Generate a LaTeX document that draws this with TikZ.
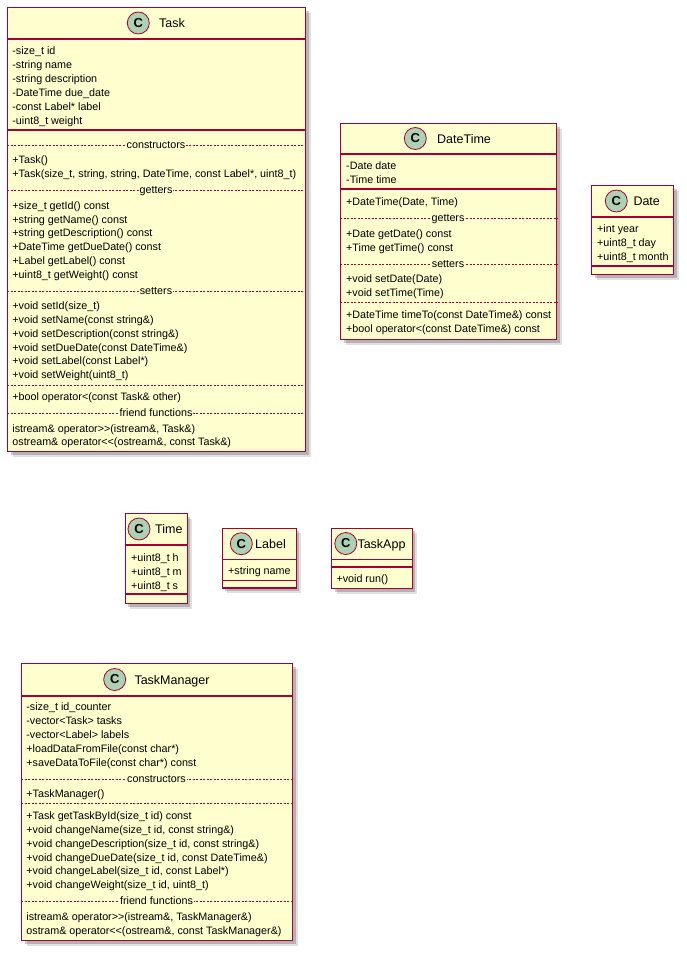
\documentclass[tikz,border=0pt]{standalone}
\usepackage{fontspec}
\newfontfamily\umlfont{Liberation Sans}
\usetikzlibrary{shadows}
\definecolor{umlfill}{HTML}{FEFECE}
\definecolor{umlline}{HTML}{A80036}
\definecolor{umlbadge}{HTML}{ADD1B2}
\tikzset{
  classbox/.style={draw=umlline, fill=umlfill, line width=1.2pt, inner sep=0pt, anchor=north west,
    drop shadow={shadow xshift=5pt, shadow yshift=-5pt, fill=black, opacity=.12},
    drop shadow={shadow xshift=3pt, shadow yshift=-3pt, fill=black, opacity=.2}},
  sep/.style={draw=umlline, line width=1.2pt},
  dsep/.style={draw=umlline, line width=0.5pt, dash pattern=on 2pt off 1.5pt},
  seplabel/.style={font=\umlfont\fontsize{10.75}{13}\selectfont, fill=umlfill, inner xsep=1pt, inner ysep=0.5pt, anchor=base, yshift=-3pt},
  member/.style={font=\umlfont\fontsize{10.75}{13}\selectfont, inner sep=0pt, anchor=base west, yshift=-4pt},
  classname/.style={font=\umlfont\fontsize{12.5}{15}\selectfont, inner sep=0pt, anchor=base west, yshift=-4.5pt},
  badge/.style={circle, draw=umlline, fill=umlbadge, line width=0.8pt, minimum size=22pt, inner sep=0pt, font=\umlfont\bfseries\fontsize{13}{13}\selectfont}
}
\begin{document}
\begin{tikzpicture}[x=1pt, y=-1pt]
\useasboundingbox (0,0) rectangle (686,953);
% Task
\node[classbox, minimum width=298pt, minimum height=444pt] (task) at (7,7) {};
\draw[sep] (task.west |- 0,39) -- (task.east |- 0,39);
\draw[sep] (task.west |- 0,130) -- (task.east |- 0,130);
\node[badge] (task-badge) at (138.3,23) {C};
\node[classname] (task-name) at (159,23) {Task};
\foreach \y/\txt [count=\i] in {50/{-size\_t id}, 64/{-string name}, 78/{-string description}, 92/{-DateTime due\_date}, 106/{-const Label* label}, 120/{-uint8\_t weight}}
  \node[member] (task-a\i) at (12.2,\y) {\txt};
\foreach \y/\txt [count=\i] in {145/constructors, 190.3/getters, 291/setters, 413.7/{friend functions}} {
  \draw[dsep] (task.west |- 0,\y) -- (task.east |- 0,\y);
  \node[seplabel] (task-s\i) at (156,\y) {\txt};
}
\draw[dsep] (task.west |- 0,385) -- (task.east |- 0,385);
\foreach \y/\txt [count=\i] in {159/{+Task()}, 173/{+Task(size\_t, string, string, DateTime, const Label*, uint8\_t)},
  205/{+size\_t getId() const}, 219/{+string getName() const}, 232.6/{+string getDescription() const},
  246.4/{+DateTime getDueDate() const}, 260.2/{+Label getLabel() const}, 274/{+uint8\_t getWeight() const},
  305.6/{+void setId(size\_t)}, 319.4/{+void setName(const string\&)}, 333.2/{+void setDescription(const string\&)},
  347/{+void setDueDate(const DateTime\&)}, 360.8/{+void setLabel(const Label*)}, 374.6/{+void setWeight(uint8\_t)},
  396.7/{+bool operator<(const Task\& other)}, 428.3/{istream\& operator>>(istream\&, Task\&)},
  441.9/{ostream\& operator<<(ostream\&, const Task\&)}}
  \node[member] (task-m\i) at (12.2,\y) {\txt};
% DateTime
\node[classbox, minimum width=216pt, minimum height=216pt] (datetime) at (340,123) {};
\draw[sep] (datetime.west |- 0,154) -- (datetime.east |- 0,154);
\draw[sep] (datetime.west |- 0,189) -- (datetime.east |- 0,189);
\node[badge] (datetime-badge) at (415.3,138.5) {C};
\node[classname] (datetime-name) at (437,138.5) {DateTime};
\foreach \y/\txt [count=\i] in {165/{-Date date}, 179.3/{-Time time}}
  \node[member] (datetime-a\i) at (346,\y) {\txt};
\foreach \y/\txt [count=\i] in {218.3/getters, 264/setters} {
  \draw[dsep] (datetime.west |- 0,\y) -- (datetime.east |- 0,\y);
  \node[seplabel] (datetime-s\i) at (448,\y) {\txt};
}
\draw[dsep] (datetime.west |- 0,302.3) -- (datetime.east |- 0,302.3);
\foreach \y/\txt [count=\i] in {201/{+DateTime(Date, Time)}, 233.3/{+Date getDate() const}, 247/{+Time getTime() const},
  278.3/{+void setDate(Date)}, 292.5/{+void setTime(Time)}, 314/{+DateTime timeTo(const DateTime\&) const},
  328.3/{+bool operator<(const DateTime\&) const}}
  \node[member] (datetime-m\i) at (346,\y) {\txt};
% Date
\node[classbox, minimum width=82pt, minimum height=89pt] (date) at (591,185) {};
\draw[sep] (date.west |- 0,217) -- (date.east |- 0,217);
\draw[sep] (date.west |- 0,266) -- (date.east |- 0,266);
\node[badge] (date-badge) at (616.3,201) {C};
\node[classname] (date-name) at (633.3,201) {Date};
\foreach \y/\txt [count=\i] in {228.3/{+int year}, 242.3/{+uint8\_t day}, 256/{+uint8\_t month}}
  \node[member] (date-a\i) at (597,\y) {\txt};
% Time
\node[classbox, minimum width=62.2pt, minimum height=90pt] (time) at (124.5,513) {};
\draw[sep] (time.west |- 0,545) -- (time.east |- 0,545);
\draw[sep] (time.west |- 0,594) -- (time.east |- 0,594);
\node[badge] (time-badge) at (139,529) {C};
\node[classname] (time-name) at (155,529) {Time};
\foreach \y/\txt [count=\i] in {557/{+uint8\_t h}, 571/{+uint8\_t m}, 585/{+uint8\_t s}}
  \node[member] (time-a\i) at (131,\y) {\txt};
% Label
\node[classbox, minimum width=74pt, minimum height=59.6pt] (label) at (221.8,527.7) {};
\draw[sep] (label.west |- 0,559.7) -- (label.east |- 0,559.7);
\draw[sep] (label.west |- 0,580.7) -- (label.east |- 0,580.7);
\node[badge] (label-badge) at (241.3,543.7) {C};
\node[classname] (label-name) at (255,543.7) {Label};
\node[member] (label-a1) at (228,570) {+string name};
% TaskApp
\node[classbox, minimum width=80.5pt, minimum height=60.3pt] (taskapp) at (331,527.7) {};
\draw[sep] (taskapp.west |- 0,559.2) -- (taskapp.east |- 0,559.2);
\draw[sep] (taskapp.west |- 0,567) -- (taskapp.east |- 0,567);
\node[badge] (taskapp-badge) at (345.8,543.5) {C};
\node[classname] (taskapp-name) at (357.3,543.5) {TaskApp};
\node[member] (taskapp-m1) at (336.3,578.5) {+void run()};
% TaskManager
\node[classbox, minimum width=271pt, minimum height=277pt] (manager) at (21,663) {};
\draw[sep] (manager.west |- 0,696) -- (manager.east |- 0,696);
\node[badge] (manager-badge) at (114.7,679.5) {C};
\node[classname] (manager-name) at (134.3,679.5) {TaskManager};
\foreach \y/\txt [count=\i] in {779.3/constructors, 901.7/{friend functions}} {
  \draw[dsep] (manager.west |- 0,\y) -- (manager.east |- 0,\y);
  \node[seplabel] (manager-s\i) at (156.5,\y) {\txt};
}
\draw[dsep] (manager.west |- 0,803.3) -- (manager.east |- 0,803.3);
\foreach \y/\txt [count=\i] in {706.7/{-size\_t id\_counter}, 720.5/{-vector<Task> tasks}, 734.3/{-vector<Label> labels},
  748.2/{+loadDataFromFile(const char*)}, 762/{+saveDataToFile(const char*) const}, 793.3/{+TaskManager()},
  815.7/{+Task getTaskById(size\_t id) const}, 829.5/{+void changeName(size\_t id, const string\&)},
  843.3/{+void changeDescription(size\_t id, const string\&)}, 857.1/{+void changeDueDate(size\_t id, const DateTime\&)},
  870.9/{+void changeLabel(size\_t id, const Label*)}, 884.5/{+void changeWeight(size\_t id, uint8\_t)},
  916/{istream\& operator>>(istream\&, TaskManager\&)}, 930/{ostram\& operator<<(ostream\&, const TaskManager\&)}}
  \node[member] (manager-m\i) at (26.2,\y) {\txt};
\end{tikzpicture}
\end{document}
